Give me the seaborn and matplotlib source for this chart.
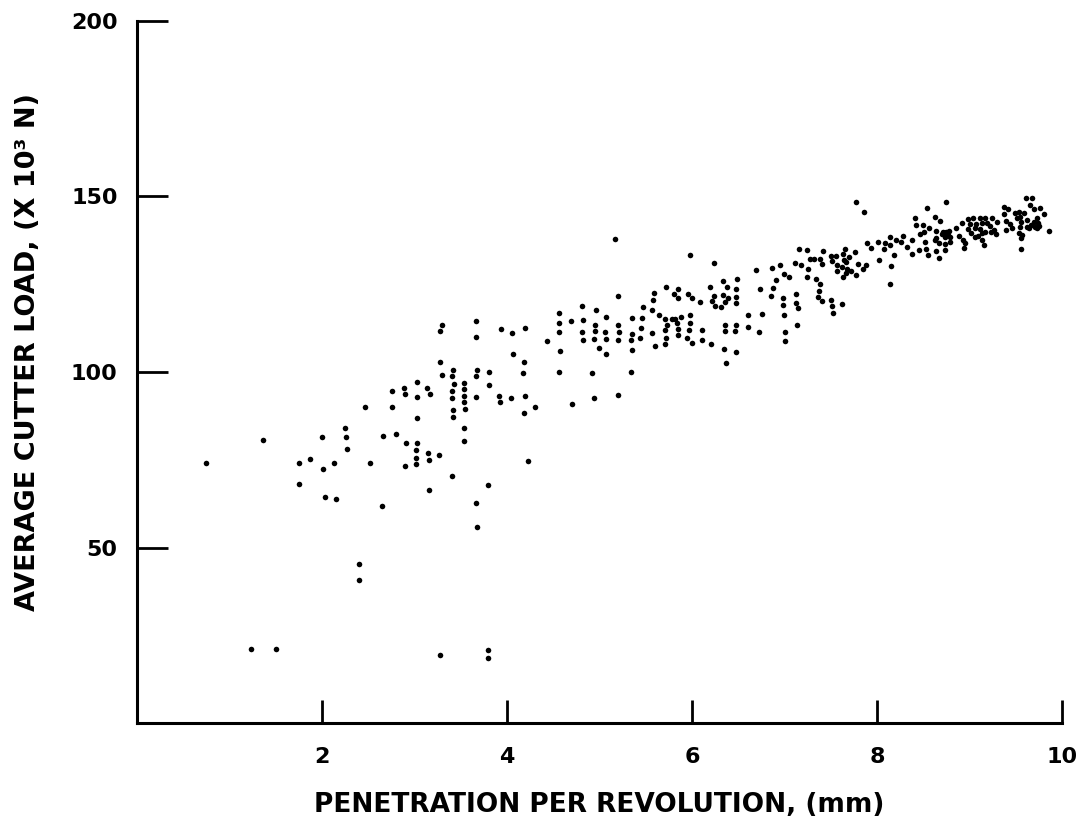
#Import libraries
import pandas as pd
import seaborn as sns
import matplotlib
matplotlib.use('Agg')
import matplotlib.pyplot as plt

sns.set_style('ticks')
#font has to be set after set_style
plt.rcParams['font.family'] = ['DejaVu Sans']
plt.rcParams['font.weight'] = 'bold'
plt.rcParams['text.color'] = 'black'
plt.rcParams['axes.labelcolor'] = 'black'

#Values
#penetration per revolution (mm)
penetration = [
    0.75, 1.36, 2.00, 1.75, 1.87, 2.01, 2.13, 1.75, 2.03, 2.15, 2.25, 2.26, 2.27, 2.46, 2.76,
    2.76, 2.66, 2.80, 2.52, 1.23, 1.50, 3.28, 3.79, 3.79, 2.65, 3.66, 3.68, 2.40, 2.40,
    3.30, 3.28, 3.67, 3.67, 3.93, 4.05, 4.19, 4.06, 4.18, 4.17, 3.28, 3.42, 3.41, 3.30, 3.68,
    3.66, 3.80, 3.43, 3.54, 3.54, 3.41, 3.54, 3.41, 3.54, 3.55, 3.42, 3.42, 3.66, 3.81, 3.91,
    3.92, 4.04, 4.19, 4.18, 3.03, 2.89, 2.90, 3.14, 3.17, 3.03, 3.03, 2.91, 3.03, 3.02, 3.02,
    3.02, 3.15, 3.16, 3.27, 2.90, 3.54, 3.53, 3.41, 3.79, 3.16, 4.23,
    5.17, 5.98, 6.24, 5.20, 5.72, 5.59, 5.58, 5.80, 5.85, 5.85, 5.96, 6.00, 6.09, 6.19, 6.24,
    6.22, 6.25, 5.47, 5.57, 5.64, 5.71, 5.78, 5.82, 5.88, 5.98, 5.73, 5.84, 5.98, 5.85, 5.71,
    5.97, 6.11, 5.85, 5.72, 5.95, 6.00, 5.71, 6.11, 6.20, 5.35, 5.46, 5.45, 5.35, 5.34, 5.44,
    5.57, 5.60, 5.35, 5.34, 4.81, 4.96, 5.07, 4.56, 4.56, 4.56, 4.69, 4.82, 4.95, 5.20, 4.81,
    4.95, 5.06, 5.21, 4.82, 4.94, 5.07, 5.20, 4.99, 5.07, 4.57, 4.43, 4.56, 4.92, 4.30, 4.70,
    4.94, 5.20,
    7.77, 7.86, 6.33, 6.49, 6.38, 6.48, 6.33, 6.39, 6.36, 6.48, 6.48, 6.31, 6.36, 6.36, 6.48,
    6.46, 6.35, 6.48, 6.37, 6.69, 6.74, 6.61, 6.60, 6.76, 6.72, 6.86, 6.95, 6.91, 6.88, 6.85,
    6.99, 7.05, 6.98, 6.98, 6.99, 7.00, 7.00, 7.11, 7.16, 7.24, 7.18, 7.25, 7.24, 7.12, 7.12,
    7.15, 7.14, 7.28, 7.32, 7.38, 7.42, 7.40, 7.34, 7.38, 7.37, 7.36, 7.40, 7.50, 7.56, 7.51,
    7.57, 7.57, 7.50, 7.51, 7.52, 7.62, 7.65, 7.63, 7.70, 7.76, 7.64, 7.67, 7.62, 7.68, 7.72,
    7.79, 7.67, 7.63, 7.77, 7.85, 7.88, 7.89, 7.94, 8.01, 8.09, 8.14, 8.14, 8.08, 8.02, 8.15,
    8.14,
    8.75, 8.54, 8.41, 8.63, 8.68, 8.42, 8.50, 8.56, 8.51, 8.47, 8.64, 8.71, 8.75, 8.78, 8.85,
    8.92, 8.98, 9.04, 9.11, 9.01, 9.07, 9.13, 8.21, 8.26, 8.28, 8.32, 8.38, 8.45, 8.52, 8.53,
    8.55, 8.38, 8.18, 8.64, 8.63, 8.70, 8.73, 8.77, 8.67, 8.73, 8.64, 8.73, 8.67, 8.79, 8.79,
    8.89, 8.93, 8.95, 8.94, 8.98, 9.02, 9.06, 9.11, 9.13, 9.13,
    9.61, 9.68, 9.65, 9.70, 9.76, 9.81, 9.37, 9.42, 9.37, 9.49, 9.53, 9.55, 9.51, 9.56, 9.59,
    9.62, 9.73, 9.70, 9.74, 9.67, 9.71, 9.75, 9.64, 9.73, 9.30, 9.40, 9.44, 9.39, 9.46, 9.55,
    9.53, 9.57, 9.56, 9.62, 9.56, 9.86, 9.17, 9.24, 9.19, 9.22, 9.26, 9.29, 9.17, 9.23, 9.09,
    9.16, 9.06,
]

#average cutter load (x 10^3 N)
cutter_load = [
    74.0, 80.6, 81.6, 74.1, 75.3, 72.5, 74.1, 68.0, 64.5, 63.8, 84.1, 81.4, 78.0, 90.1, 94.5,
    90.1, 81.9, 82.3, 74.1, 21.0, 21.0, 19.3, 20.8, 18.6, 61.8, 62.6, 55.9, 45.3, 40.8,
    113.3, 111.6, 114.5, 110.0, 112.3, 111.1, 112.6, 105.1, 102.9, 99.6, 102.8, 100.6, 98.9, 99.1, 100.6,
    98.9, 100.0, 96.7, 96.9, 95.2, 94.6, 93.2, 92.5, 91.4, 89.5, 89.2, 87.2, 92.9, 96.4, 93.1,
    91.5, 92.6, 93.1, 88.3, 97.2, 95.4, 93.6, 95.4, 93.7, 92.8, 86.8, 79.8, 79.8, 77.9, 75.4,
    73.9, 76.9, 74.8, 76.3, 73.3, 84.0, 80.3, 70.5, 67.8, 66.4, 74.6,
    137.8, 133.4, 131.1, 121.7, 124.3, 122.5, 120.4, 122.2, 123.7, 121.1, 122.2, 121.0, 119.9, 124.3, 121.6,
    120.2, 118.8, 118.6, 117.7, 116.3, 115.1, 115.0, 115.2, 115.6, 116.2, 113.3, 113.9, 114.0, 112.3, 111.9,
    111.9, 111.9, 110.5, 109.8, 109.8, 108.3, 108.1, 109.1, 108.1, 115.4, 115.5, 112.6, 110.9, 109.0, 109.7,
    111.2, 107.4, 106.2, 100.0, 118.9, 117.7, 115.7, 116.7, 113.9, 111.3, 114.5, 114.9, 113.5, 113.4, 111.3,
    111.6, 111.3, 111.5, 109.1, 109.3, 109.5, 109.0, 106.8, 105.1, 105.9, 108.9, 99.9, 99.6, 89.9, 90.9,
    92.6, 93.5,
    148.3, 145.7, 126.0, 126.4, 124.2, 123.6, 121.9, 121.1, 120.0, 121.5, 119.7, 118.5, 113.4, 111.7, 113.4,
    111.7, 106.6, 105.7, 102.6, 129.0, 123.6, 116.2, 112.7, 116.4, 111.4, 129.5, 130.6, 126.2, 123.9, 121.7,
    127.9, 127.2, 121.0, 119.0, 116.3, 111.4, 108.8, 131.1, 135.1, 134.8, 130.4, 129.4, 127.0, 122.2, 119.7,
    118.1, 113.3, 132.3, 132.3, 132.3, 134.5, 130.7, 126.5, 125.0, 123.1, 121.4, 120.2, 133.1, 133.0, 131.5,
    130.6, 128.8, 120.4, 118.8, 116.9, 119.4, 135.0, 133.5, 132.8, 134.1, 131.9, 131.4, 129.8, 129.3, 128.9,
    130.8, 128.1, 127.2, 127.6, 129.3, 130.4, 136.7, 135.2, 136.9, 136.7, 138.5, 136.1, 135.0, 131.8, 130.1,
    125.2,
    148.3, 146.6, 143.8, 144.2, 143.0, 141.9, 141.9, 140.9, 139.8, 139.3, 140.2, 139.9, 140.0, 140.1, 140.9,
    142.5, 143.7, 143.9, 144.0, 142.2, 142.2, 142.4, 137.6, 137.1, 138.7, 135.6, 137.6, 134.7, 136.9, 135.0,
    133.2, 133.5, 133.4, 138.3, 137.7, 139.2, 138.4, 139.0, 136.7, 136.5, 134.5, 134.8, 132.6, 138.4, 137.0,
    138.8, 137.6, 136.7, 135.4, 140.7, 139.5, 138.4, 140.7, 139.5, 137.6,
    149.5, 149.5, 147.6, 146.4, 146.6, 144.9, 146.9, 146.4, 145.0, 145.2, 145.7, 144.2, 143.8, 142.8, 145.2,
    143.3, 143.8, 142.8, 142.4, 141.9, 141.4, 141.6, 140.9, 140.9, 142.7, 142.9, 142.2, 140.5, 140.9, 141.2,
    139.7, 139.0, 138.1, 141.2, 135.0, 140.2, 143.8, 144.0, 142.4, 141.6, 140.5, 139.3, 140.0, 140.0, 138.7,
    136.2, 141.0,
]

x_ticks = [2, 4, 6, 8, 10]
y_ticks = [50, 100, 150, 200]

df = pd.DataFrame({'penetration': penetration, 'load': cutter_load})

fig = plt.figure(figsize=(10.84, 8.23), dpi=100)
ax = fig.add_axes([0.1264, 0.1215, 0.8533, 0.853])

sns.scatterplot(data=df, x='penetration', y='load', ax=ax,
                color='black', s=16, linewidth=0, legend=False)

ax.set_xlim(0, 10)
ax.set_ylim(0, 200)
ax.set_xticks(x_ticks)
ax.set_yticks(y_ticks)

#only left and bottom axis, thick like the scan
for side in ['top', 'right']:
    ax.spines[side].set_visible(False)
for side in ['left', 'bottom']:
    ax.spines[side].set_linewidth(2.2)
    ax.spines[side].set_color('black')

ax.tick_params(axis='x', bottom=True, direction='in', length=16.5, width=2, pad=17,
               labelsize=16, colors='black')
ax.tick_params(axis='y', left=True, direction='in', length=22, width=2, pad=14,
               labelsize=16, colors='black')

ax.set_xlabel('PENETRATION PER REVOLUTION, (mm)', fontsize=19, fontweight='bold')
ax.set_ylabel('AVERAGE CUTTER LOAD, (X 10³ N)', fontsize=19.5, fontweight='bold')
ax.xaxis.set_label_coords(0.5, -0.098)
ax.yaxis.set_label_coords(-0.104, 0.528)

fig.savefig('out.png', dpi=100)
